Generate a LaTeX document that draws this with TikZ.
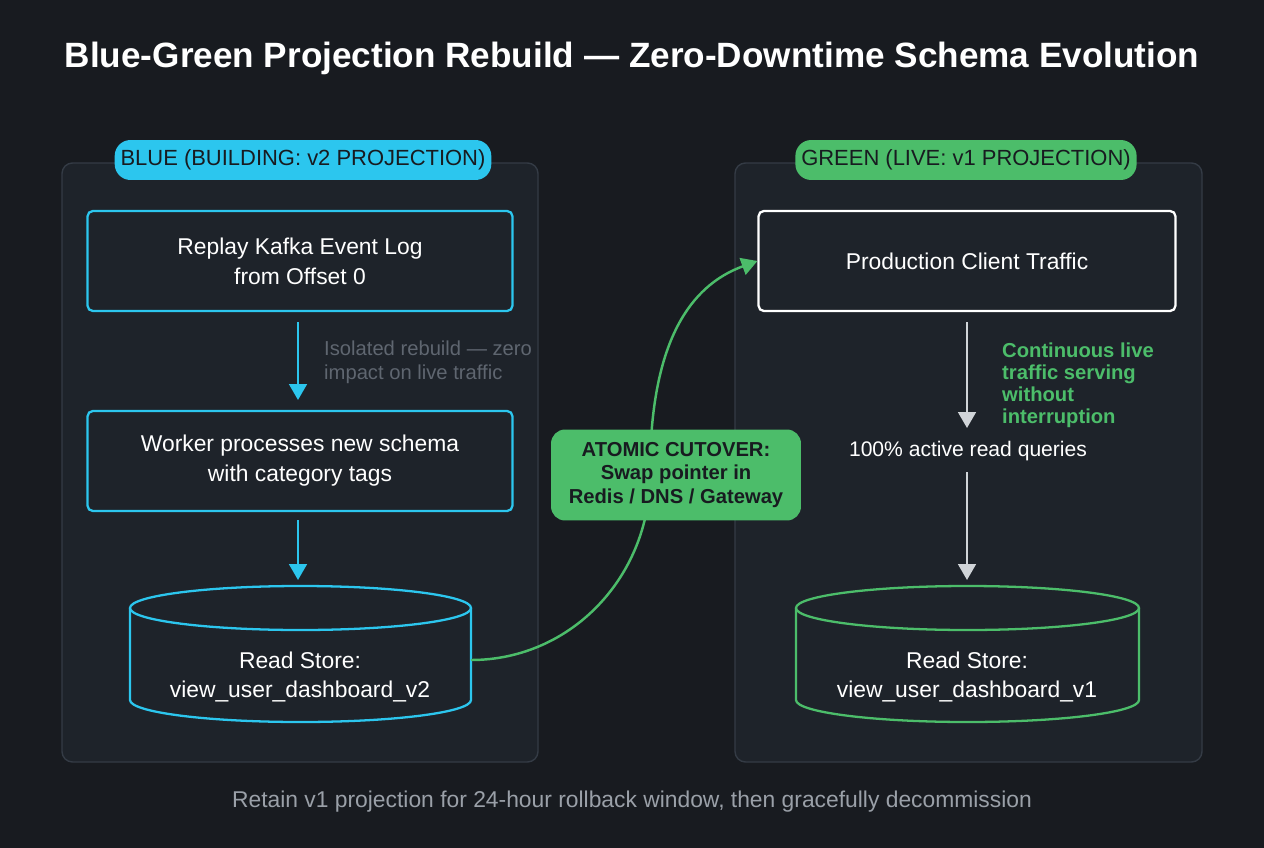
\documentclass[tikz,border=0pt]{standalone}
\usepackage{fontspec}
\setmainfont{Liberation Sans}
\usetikzlibrary{arrows.meta}
\usetikzlibrary{positioning}
\definecolor{bgdark}{HTML}{181B20}
\definecolor{panelfill}{HTML}{1E232A}
\definecolor{panelline}{HTML}{343B45}
\definecolor{bluec}{HTML}{2CC6EE}
\definecolor{greenc}{HTML}{4CBD6A}
\definecolor{mutedgray}{HTML}{5F6670}
\definecolor{lightgray}{HTML}{D0D4D8}
\definecolor{footgray}{HTML}{9AA0A8}
\tikzset{
  >=Latex,
  panel/.style={draw=panelline, fill=panelfill, rounded corners=6pt, line width=0.8pt},
  pill/.style={rounded corners=9pt, minimum height=0.8cm, text=bgdark, font=\fontsize{12.5}{14}\selectfont},
  stepbox/.style={draw=#1, rounded corners=3pt, line width=1.3pt, minimum width=8.5cm, minimum height=2cm, align=center, text=white, font=\fontsize{13}{17}\selectfont},
  flow/.style={->, line width=1.4pt, draw=#1, -{Triangle[length=9pt,width=10pt]}},
  store/.style={draw=#1, line width=1.3pt, fill=panelfill},
  storetext/.style={align=center, text=white, font=\fontsize{13}{17}\selectfont}
}
\begin{document}
\begin{tikzpicture}[x=0.02cm, y=-0.02cm]
  % background
  \fill[bgdark] (0,0) rectangle (1264,848);
  \useasboundingbox (0,0) rectangle (1264,848);
  \node[text=white, font=\fontsize{20}{24}\bfseries\selectfont] (title) at (632,58) {Blue-Green Projection Rebuild — Zero-Downtime Schema Evolution};

  % panels
  \draw[panel] (62,163) rectangle (538,762);
  \draw[panel] (735,163) rectangle (1202,762);
  \node[pill, fill=bluec, minimum width=7.44cm] (bluetag) at (303,160) {BLUE (BUILDING: v2 PROJECTION)};
  \node[pill, fill=greenc, minimum width=6.7cm] (greentag) at (966,160) {GREEN (LIVE: v1 PROJECTION)};

  % blue side
  \node[stepbox=bluec] (replay) at (300,261) {Replay Kafka Event Log\\from Offset 0};
  \node[stepbox=bluec] (worker) at (300,461) {Worker processes new schema\\with category tags};
  \draw[store=bluec] (130,608) -- (130,700) arc[start angle=180, end angle=0, x radius=170.5, y radius=22] -- (471,608);
  \draw[store=bluec] (300.5,608) ellipse[x radius=170.5, y radius=22];
  \node[storetext] (storev2) at (300,677) {Read Store:\\view\_user\_dashboard\_v2};
  \coordinate (v2out) at (471,660);
  \draw[flow=bluec] (298,322) -- (298,400);
  \draw[flow=bluec] (298,520) -- (298,580);
  \node[text=mutedgray, align=left, anchor=west, font=\fontsize{11.5}{13.5}\selectfont] (isolated) at (318,362) {Isolated rebuild — zero\\impact on live traffic};

  % green side
  \node[stepbox=white, minimum width=8.34cm] (traffic) at (967,261) {Production Client Traffic};
  \draw[flow=lightgray] (967,322) -- (967,428);
  \node[text=greenc, align=left, anchor=west, font=\fontsize{11.5}{12.5}\bfseries\selectfont] (serving) at (996,385) {Continuous live\\traffic serving\\without\\interruption};
  \node[text=white, font=\fontsize{12}{14}\selectfont] (queries) at (968,451) {100\% active read queries};
  \draw[flow=lightgray] (967,472) -- (967,580);
  \draw[store=greenc] (796,608) -- (796,700) arc[start angle=180, end angle=0, x radius=171.5, y radius=22] -- (1139,608);
  \draw[store=greenc] (967.5,608) ellipse[x radius=171.5, y radius=22];
  \node[storetext] (storev1) at (967,677) {Read Store:\\view\_user\_dashboard\_v1};

  % cutover
  \coordinate (mid) at (650,475);
  \draw[flow=greenc] (v2out) to[out=0, in=270] (mid) to[out=90, in=200] (traffic.west);
  \node[fill=greenc, rounded corners=8pt, minimum width=5cm, minimum height=1.82cm, align=center, text=bgdark, font=\fontsize{11.5}{13.5}\bfseries\selectfont] (cutover) at (676,475) {ATOMIC CUTOVER:\\Swap pointer in\\Redis / DNS / Gateway};

  % footer
  \node[text=footgray, font=\fontsize{13}{15}\selectfont] (footer) at (632,802) {Retain v1 projection for 24-hour rollback window, then gracefully decommission};
\end{tikzpicture}
\end{document}
